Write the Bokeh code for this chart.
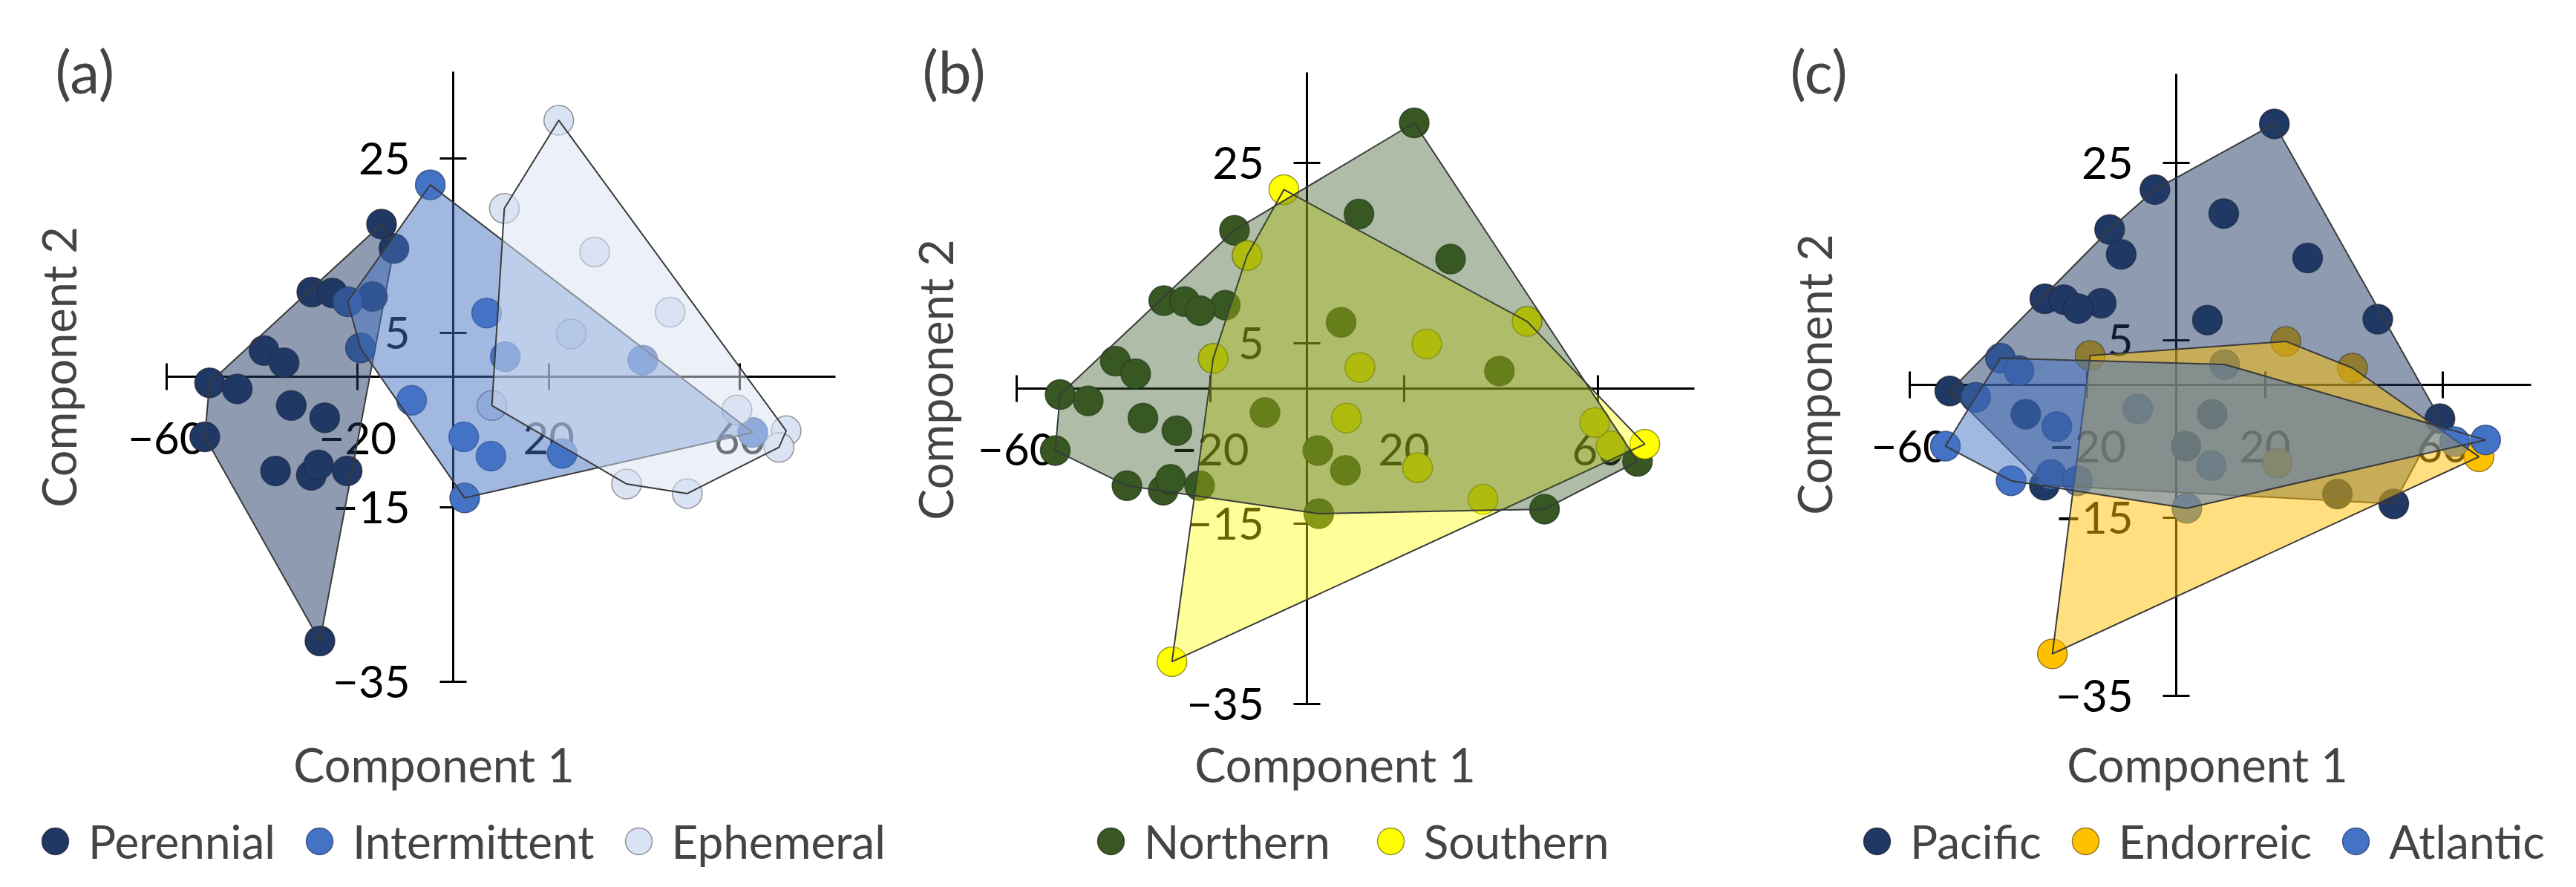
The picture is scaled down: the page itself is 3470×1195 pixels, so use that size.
import math
from bokeh.plotting import figure
from bokeh.models import FixedTicker, Legend, LegendItem, Range1d, Label
from bokeh.layouts import row
from bokeh.embed import file_html
from bokeh.resources import INLINE

# ---- data (PCA scores) ----
component_1 = [-15.0, -12.4, -29.6, -25.3, -16.9, -39.6, -35.4, -51.0, -45.2, -33.9,
               -26.9, -52.0, -37.2, -29.7, -28.2, -22.2, -27.9,
               -4.8, -22.1, -19.4, -8.7, 7.0, 2.2, 7.9, 2.4, 22.8, 10.9, 39.7, 62.7,
               22.1, 10.7, 29.6, 45.4, 24.7, 8.1, 59.4, 69.7, 68.2, 36.3, 49.0]
component_2 = [17.5, 14.7, 9.7, 9.6, 9.2, 3.0, 1.6, -0.7, -1.4, -3.3,
               -4.7, -6.9, -10.8, -11.3, -10.1, -10.8, -30.3,
               22.0, 8.6, 3.3, -2.7, 7.3, -6.9, -9.1, -13.9, -8.8, 2.3, 1.9, -6.4,
               29.4, 19.3, 14.3, 7.4, 4.9, -3.3, -3.8, -6.2, -8.1, -12.3, -13.4]
flow_regime = ["Perennial"] * 17 + ["Intermittent"] * 12 + ["Ephemeral"] * 11
hemisphere = ["Northern", "Southern", "Northern", "Northern", "Northern", "Northern", "Northern",
              "Northern", "Northern", "Northern", "Northern", "Northern", "Northern", "Northern",
              "Northern", "Northern", "Southern",
              "Southern", "Northern", "Southern", "Northern", "Northern", "Northern", "Northern",
              "Northern", "Southern", "Southern", "Northern", "Southern",
              "Northern", "Northern", "Northern", "Southern", "Southern", "Southern", "Southern",
              "Southern", "Northern", "Southern", "Northern"]
basin = ["Pacific", "Pacific", "Pacific", "Pacific", "Pacific", "Atlantic", "Atlantic",
         "Pacific", "Atlantic", "Pacific", "Atlantic", "Atlantic", "Atlantic", "Pacific",
         "Atlantic", "Atlantic", "Endorreic",
         "Pacific", "Pacific", "Endorreic", "Atlantic", "Pacific", "Pacific", "Atlantic",
         "Atlantic", "Endorreic", "Atlantic", "Endorreic", "Atlantic",
         "Pacific", "Pacific", "Pacific", "Pacific", "Endorreic", "Pacific", "Pacific",
         "Atlantic", "Endorreic", "Pacific", "Pacific"]

x_ticks = [-60, -20, 20, 60]
x_tick_labels = ["\u221260", "\u221220", "20", "60"]
y_ticks = [25, 5, -15, -35]
y_tick_labels = ["25", "5", "\u221215", "\u221235"]
x_axis_bounds = (-60, 80)
y_axis_bounds = (-35, 35)

FONT = "Lato"
FIG_H = 1178
PAGE_TOP = 8


def convex_hull(xs, ys):
    pts = sorted(set(zip(xs, ys)))
    if len(pts) < 3:
        return [p[0] for p in pts], [p[1] for p in pts]

    def cross(o, a, b):
        return (a[0] - o[0]) * (b[1] - o[1]) - (a[1] - o[1]) * (b[0] - o[0])

    lower = []
    for pt in pts:
        while len(lower) >= 2 and cross(lower[-2], lower[-1], pt) <= 0:
            lower.pop()
        lower.append(pt)
    upper = []
    for pt in reversed(pts):
        while len(upper) >= 2 and cross(upper[-2], upper[-1], pt) <= 0:
            upper.pop()
        upper.append(pt)
    hull = lower[:-1] + upper[:-1]
    return [h[0] for h in hull], [h[1] for h in hull]


def panel(tag, labels, order, colors, outlines, patch_order, alpha, geo):
    left, width = geo["left"], geo["width"]
    x0, sx, y0, sy = geo["x0"], geo["sx"], geo["y0"], geo["sy"]

    def to_data(px, py):
        return (px - x0) / sx, (y0 - py) / sy

    xr = Range1d((left - x0) / sx, (left + width - x0) / sx)
    yr = Range1d((y0 - (PAGE_TOP + FIG_H)) / sy, (y0 - PAGE_TOP) / sy)
    p = figure(frame_width=width, frame_height=FIG_H, x_range=xr, y_range=yr,
               output_backend="svg", toolbar_location=None,
               min_border=0)
    p.outline_line_color = None
    p.xgrid.visible = False
    p.ygrid.visible = False
    p.background_fill_color = "white"

    for ax, ticks, tlabels, bounds in ((p.xaxis, x_ticks, x_tick_labels, x_axis_bounds),
                                       (p.yaxis, y_ticks, y_tick_labels, y_axis_bounds)):
        ax.fixed_location = 0
        ax.bounds = bounds
        ax.level = "underlay"
        ax.ticker = FixedTicker(ticks=ticks)
        ax.major_label_overrides = dict(zip(ticks, tlabels))
        ax.axis_line_width = 3
        ax.axis_line_color = "black"
        ax.major_tick_line_width = 3
        ax.major_tick_line_color = "black"
        ax.major_tick_in = 18
        ax.major_tick_out = 18
        ax.minor_tick_line_color = None
        ax.major_label_text_font = FONT
        ax.major_label_text_font_size = "60px"
        ax.major_label_text_color = "black"
    p.xaxis.major_label_standoff = 43
    p.yaxis.major_label_standoff = 40

    rends = {}
    for g in order:
        xs = [x for x, l in zip(component_1, labels) if l == g]
        ys = [y for y, l in zip(component_2, labels) if l == g]
        rends[g] = p.scatter(xs, ys, size=40, marker="circle",
                             fill_color=colors[g], line_color=outlines[g],
                             line_alpha=0.7, line_width=1.5)
    for g in patch_order:
        xs = [x for x, l in zip(component_1, labels) if l == g]
        ys = [y for y, l in zip(component_2, labels) if l == g]
        hx, hy = convex_hull(xs, ys)
        p.patch(hx, hy, fill_color=colors[g], fill_alpha=alpha,
                line_color="#3a3a3a", line_width=2)

    tx, ty = to_data(*geo["tag_at"])
    p.add_layout(Label(x=tx, y=ty, text=tag, text_font=FONT, text_font_size="80px",
                       text_align="left", text_baseline="alphabetic"))
    cx, cy = to_data(*geo["c2_at"])
    p.add_layout(Label(x=cx, y=cy, text="Component 2", angle=math.pi / 2,
                       text_font=FONT, text_font_size="63px",
                       text_align="center", text_baseline="alphabetic"))
    cx, cy = to_data(*geo["c1_at"])
    p.add_layout(Label(x=cx, y=cy, text="Component 1",
                       text_font=FONT, text_font_size="63px",
                       text_align="center", text_baseline="alphabetic"))

    legend = Legend(items=[LegendItem(label=g, renderers=[rends[g]]) for g in order],
                    orientation="horizontal", location=geo["legend_at"],
                    glyph_width=90, glyph_height=90, label_standoff=0,
                    spacing=geo["legend_spacing"],
                    padding=0, margin=0, border_line_color=None,
                    background_fill_alpha=0,
                    label_text_font=FONT, label_text_font_size="62px")
    p.add_layout(legend, "center")
    return p


geo_a = dict(left=8, width=1207, x0=618.0, sx=6.435, y0=515.0, sy=11.75,
             tag_at=(82, 102), c2_at=(86, 502), c1_at=(592, 1037),
             legend_at=(29, 0), legend_spacing=14)
geo_b = dict(left=1215, width=1155, x0=1768.3, sx=6.525, y0=530.5, sy=12.16,
             tag_at=(1250, 102), c2_at=(1267, 519), c1_at=(1806, 1037),
             legend_at=(244, 0), legend_spacing=36)
geo_c = dict(left=2370, width=1092, x0=2939.0, sx=5.98, y0=526.0, sy=11.96,
             tag_at=(2419, 102), c2_at=(2451, 512), c1_at=(2981, 1037),
             legend_at=(121, 0), legend_spacing=14)

pa = panel("(a)", flow_regime, ["Perennial", "Intermittent", "Ephemeral"],
           {"Perennial": "#1F3864", "Intermittent": "#4472C4", "Ephemeral": "#DAE3F3"},
           {"Perennial": "#1a1a2a", "Intermittent": "#203864", "Ephemeral": "#6a6a6a"},
           ["Perennial", "Intermittent", "Ephemeral"], 0.5, geo_a)
pb = panel("(b)", hemisphere, ["Northern", "Southern"],
           {"Northern": "#385723", "Southern": "#FFFF00"},
           {"Northern": "#1a2a10", "Southern": "#6a6a00"},
           ["Southern", "Northern"], 0.4, geo_b)
pc = panel("(c)", basin, ["Pacific", "Endorreic", "Atlantic"],
           {"Pacific": "#1F3864", "Endorreic": "#FFC000", "Atlantic": "#4472C4"},
           {"Pacific": "#1a1a2a", "Endorreic": "#6a5000", "Atlantic": "#203864"},
           ["Pacific", "Endorreic", "Atlantic"], 0.5, geo_c)

layout = row(pa, pb, pc)
open("out.html", "w").write(file_html(layout, INLINE))
